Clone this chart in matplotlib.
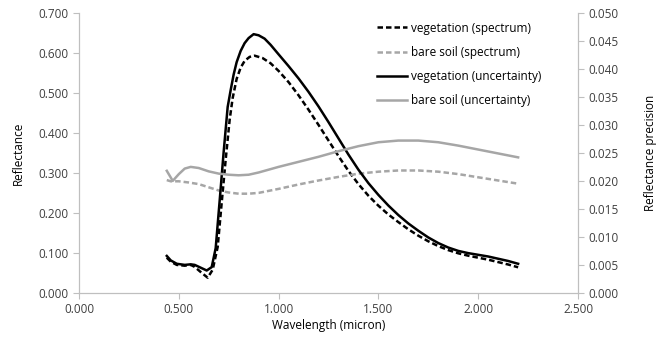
import numpy as np
import matplotlib
matplotlib.use('Agg')
from matplotlib import pyplot as plt

plt.rcParams['font.family'] = ['Open Sans', 'DejaVu Sans']

#------------------------------------------------------------
# Values
veg_spec_wl = [0.44, 0.46, 0.49, 0.53, 0.56, 0.58, 0.615, 0.645, 0.67, 0.695,
               0.715, 0.735, 0.755, 0.77, 0.79, 0.81, 0.83, 0.855, 0.88, 0.92,
               0.96, 1.00, 1.05, 1.10, 1.15, 1.20, 1.25, 1.30, 1.35, 1.40,
               1.45, 1.50, 1.55, 1.60, 1.65, 1.70, 1.75, 1.80, 1.85, 1.90,
               1.95, 2.00, 2.05, 2.10, 2.15, 2.20]
veg_spec = [0.088, 0.078, 0.070, 0.068, 0.070, 0.065, 0.050, 0.038, 0.058, 0.115,
            0.225, 0.333, 0.433, 0.487, 0.535, 0.563, 0.580, 0.590, 0.593, 0.587,
            0.574, 0.555, 0.527, 0.494, 0.458, 0.420, 0.381, 0.342, 0.305, 0.272,
            0.243, 0.218, 0.196, 0.177, 0.159, 0.143, 0.129, 0.117, 0.107, 0.099,
            0.093, 0.088, 0.083, 0.077, 0.071, 0.064]

veg_unc_wl = [0.44, 0.46, 0.49, 0.53, 0.56, 0.58, 0.61, 0.64, 0.665, 0.685,
              0.705, 0.725, 0.745, 0.76, 0.775, 0.79, 0.81, 0.83, 0.85, 0.875,
              0.90, 0.93, 0.96, 1.00, 1.05, 1.10, 1.15, 1.20, 1.25, 1.30,
              1.35, 1.40, 1.45, 1.50, 1.55, 1.60, 1.65, 1.70, 1.75, 1.80,
              1.85, 1.90, 1.95, 2.00, 2.05, 2.10, 2.15, 2.20]
veg_unc = [0.0066, 0.0058, 0.0052, 0.0050, 0.0051, 0.0050, 0.0045, 0.0040, 0.0046, 0.0080,
           0.0165, 0.0252, 0.0332, 0.0362, 0.0390, 0.0412, 0.0432, 0.0446, 0.0455, 0.0462,
           0.0460, 0.0454, 0.0443, 0.0426, 0.0405, 0.0383, 0.0359, 0.0333, 0.0305, 0.0276,
           0.0247, 0.0220, 0.0196, 0.0175, 0.0156, 0.0139, 0.0124, 0.0111, 0.0099, 0.0089,
           0.0081, 0.0075, 0.0071, 0.0068, 0.0065, 0.0061, 0.0057, 0.0052]

soil_spec_wl = [0.44, 0.46, 0.50, 0.55, 0.60, 0.65, 0.70, 0.75, 0.80, 0.85,
                0.90, 0.95, 1.00, 1.10, 1.20, 1.30, 1.40, 1.50, 1.60, 1.70,
                1.80, 1.90, 2.00, 2.10, 2.20]
soil_spec = [0.282, 0.279, 0.279, 0.276, 0.272, 0.264, 0.256, 0.251, 0.248, 0.248,
             0.250, 0.255, 0.260, 0.271, 0.281, 0.290, 0.298, 0.303, 0.306, 0.306,
             0.303, 0.297, 0.289, 0.281, 0.273]

soil_unc_wl = [0.44, 0.47, 0.50, 0.53, 0.56, 0.60, 0.65, 0.70, 0.75, 0.80,
               0.85, 0.90, 1.00, 1.10, 1.20, 1.30, 1.40, 1.50, 1.60, 1.70,
               1.80, 1.90, 2.00, 2.10, 2.20]
soil_unc = [0.0218, 0.0200, 0.0212, 0.0222, 0.0225, 0.0223, 0.0217, 0.0213, 0.0211, 0.0210,
            0.0211, 0.0215, 0.0225, 0.0234, 0.0243, 0.0253, 0.0262, 0.0269, 0.0272, 0.0272,
            0.0269, 0.0263, 0.0256, 0.0249, 0.0242]

#------------------------------------------------------------
# Plot
spine_c = '#bfbfbf'
tick_c = '#404040'
grey = '#a6a6a6'

fig = plt.figure(figsize=(6.69, 3.39), dpi=100)
ax1 = fig.add_axes([0.118, 0.136, 0.746, 0.826])
ax2 = ax1.twinx()

l1, = ax1.plot(veg_spec_wl, veg_spec, c='k', lw=1.8, ls=(0, (2.2, 1.2)))
l2, = ax1.plot(soil_spec_wl, soil_spec, c=grey, lw=1.8, ls=(0, (2.2, 1.2)))
l3, = ax2.plot(veg_unc_wl, veg_unc, c='k', lw=1.8)
l4, = ax2.plot(soil_unc_wl, soil_unc, c=grey, lw=1.8)

ax1.set_xlim(0, 2.5)
ax1.set_ylim(0, 0.7)
ax2.set_ylim(0, 0.05)
ax1.set_xticks(np.arange(0, 2.51, 0.5))
ax1.set_yticks(np.arange(0, 0.71, 0.1))
ax2.set_yticks(np.arange(0, 0.0501, 0.005))
ax1.xaxis.set_major_formatter(plt.FormatStrFormatter('%.3f'))
ax1.yaxis.set_major_formatter(plt.FormatStrFormatter('%.3f'))
ax2.yaxis.set_major_formatter(plt.FormatStrFormatter('%.3f'))

for ax in [ax1, ax2]:
    ax.spines['top'].set_visible(False)
    for s in ['left', 'right', 'bottom']:
        ax.spines[s].set_color(spine_c)
    ax.tick_params(colors=spine_c, labelcolor=tick_c, labelsize=8.5,
                   length=4, width=0.8)

ax1.set_xlabel('Wavelength (micron)', fontsize=8.5, labelpad=2)
ax1.set_ylabel('Reflectance', fontsize=8.5, labelpad=10)
ax2.set_ylabel('Reflectance precision', fontsize=8.5, labelpad=18)

ax1.legend([l1, l2, l3, l4],
           ['vegetation (spectrum)', 'bare soil (spectrum)',
            'vegetation (uncertainty)', 'bare soil (uncertainty)'],
           loc='upper left', bbox_to_anchor=(0.585, 0.99), frameon=False,
           fontsize=8.5, handlelength=2.6, handletextpad=0.3,
           labelspacing=0.95, borderpad=0)

fig.savefig('out.png', dpi=100)
